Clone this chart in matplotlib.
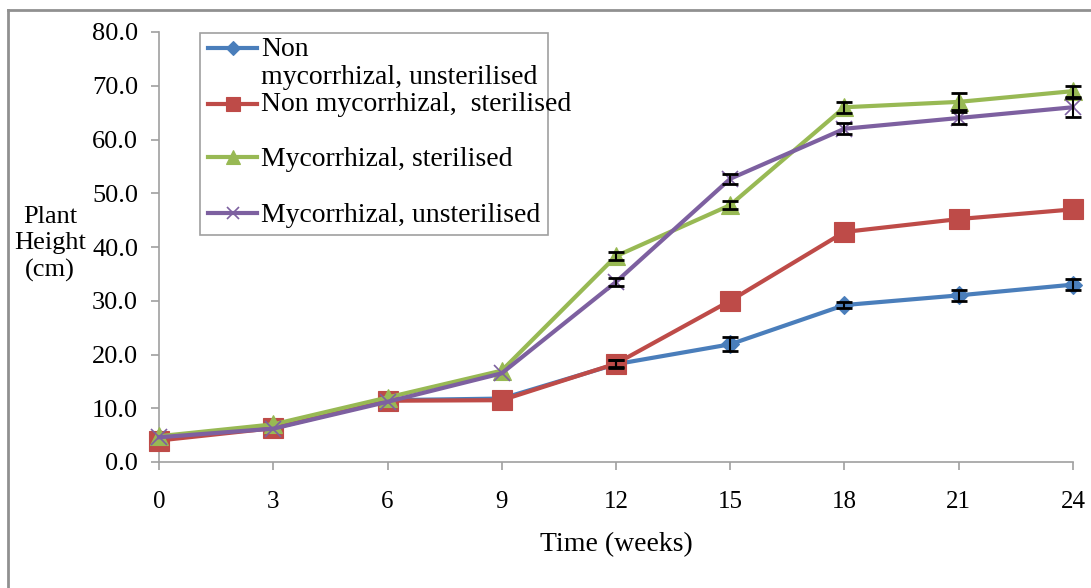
import matplotlib.pyplot as plt
from matplotlib.lines import Line2D
from matplotlib.patches import Rectangle

# Datos
semanas = [0, 3, 6, 9, 12, 15, 18, 21, 24]

non_myc_unster = [4.5, 6.5, 11.5, 11.8, 18.2, 21.9, 29.2, 31.0, 33.0]
non_myc_ster = [4.0, 6.3, 11.4, 11.5, 18.3, 30.0, 42.8, 45.2, 47.0]
myc_ster = [4.8, 7.0, 12.0, 17.0, 38.3, 47.8, 66.0, 67.0, 69.0]
myc_unster = [4.6, 6.2, 11.2, 16.5, 33.5, 52.7, 62.0, 64.0, 66.0]

err_non_myc_unster = [0, 0, 0, 0, 0.8, 1.3, 0.6, 1.0, 1.0]
err_non_myc_ster = [0, 0, 0, 0, 0.6, 0, 0, 0, 0]
err_myc_ster = [0, 0, 0, 0, 0.8, 0.8, 1.0, 1.6, 1.0]
err_myc_unster = [0, 0, 0, 0, 0.8, 0.9, 1.0, 1.2, 1.8]

etiquetas = [["Non", "mycorrhizal, unsterilised"],
             ["Non mycorrhizal,  sterilised"],
             ["Mycorrhizal, sterilised"],
             ["Mycorrhizal, unsterilised"]]
colores = ["#4a7ebb", "#be4b48", "#98b954", "#7d60a0"]
marcadores = ["D", "s", "^", "x"]
tamanos = [9, 14, 13, 11]

plt.rcParams['font.family'] = ['Liberation Serif', 'DejaVu Serif']

W, H = 1091, 588
fig = plt.figure(figsize=(W / 100, H / 100), dpi=100)
ax = fig.add_axes([159 / W, 1 - 462 / H, (1073 - 159) / W, (462 - 32) / H])


def px(x, y):
    # pixel (desde arriba) -> fraccion de figura
    return x / W, 1 - y / H


series = [non_myc_unster, non_myc_ster, myc_ster, myc_unster]
errores = [err_non_myc_unster, err_non_myc_ster, err_myc_ster, err_myc_unster]

for y, e, c, m, s in zip(series, errores, colores, marcadores, tamanos):
    ax.plot(semanas, y, color=c, lw=3, marker=m, markersize=s,
            markeredgewidth=1.2 if m == "x" else 0.8, markeredgecolor=c,
            clip_on=False, zorder=3)
    xs = [x for x, v in zip(semanas, e) if v > 0]
    ys = [yy for yy, v in zip(y, e) if v > 0]
    es = [v for v in e if v > 0]
    ax.errorbar(xs, ys, yerr=es, fmt="none", ecolor="black",
                elinewidth=1.5, capsize=6, capthick=2, zorder=4, clip_on=False)

ax.set_xlim(0, 24)
ax.set_ylim(0, 80)
ax.set_xticks(semanas)
ax.set_yticks(range(0, 81, 10))
ax.set_yticklabels([f"{v:.1f}" for v in range(0, 81, 10)])

for lado in ["top", "right"]:
    ax.spines[lado].set_visible(False)
for lado in ["left", "bottom"]:
    ax.spines[lado].set_color("#a0a0a0")
    ax.spines[lado].set_linewidth(1.2)
ax.tick_params(axis="both", colors="#a0a0a0", labelcolor="black",
               length=6, width=1.2, direction="out")
ax.tick_params(axis="x", labelsize=18, pad=15)
ax.tick_params(axis="y", labelsize=19, pad=9)

fig.text(*px(616, 545), "Time (weeks)", fontsize=20, ha="center", va="center")
fig.text(*px(50, 244), "Plant\nHeight\n(cm)", fontsize=19, ha="center",
         va="center", linespacing=1.25)

# Leyenda dibujada a mano (estilo Excel)
fig.add_artist(Rectangle(px(200, 235), 348 / W, 202 / H, transform=fig.transFigure,
                         facecolor="white", edgecolor="#a0a0a0", lw=1.2, zorder=5))
y_handles = [48, 104, 157, 213]
y_textos = [[56, 84], [111], [166], [222]]
for c, m, s, yh, yt, lab in zip(colores, marcadores, tamanos, y_handles, y_textos, etiquetas):
    x0, yy = px(208, yh)
    x1, _ = px(257, yh)
    fig.add_artist(Line2D([x0, x1], [yy, yy], color=c, lw=3,
                          transform=fig.transFigure, zorder=6))
    fig.add_artist(Line2D([(x0 + x1) / 2], [yy], color=c, marker=m,
                          markersize=s * 0.75, markeredgecolor=c,
                          markeredgewidth=1.2 if m == "x" else 0.8,
                          transform=fig.transFigure, zorder=6))
    for linea, yb in zip(lab, yt):
        fig.text(*px(261, yb), linea, fontsize=20, ha="left", va="baseline",
                 zorder=7)

# Marco exterior
fig.add_artist(Line2D([8 / W, 8 / W], [0.0, 1 - 10 / H], color="#909090",
                      lw=2, transform=fig.transFigure))
fig.add_artist(Line2D([8 / W, 1.0], [1 - 10 / H, 1 - 10 / H], color="#909090",
                      lw=2, transform=fig.transFigure))

fig.savefig("out.png", dpi=100)
